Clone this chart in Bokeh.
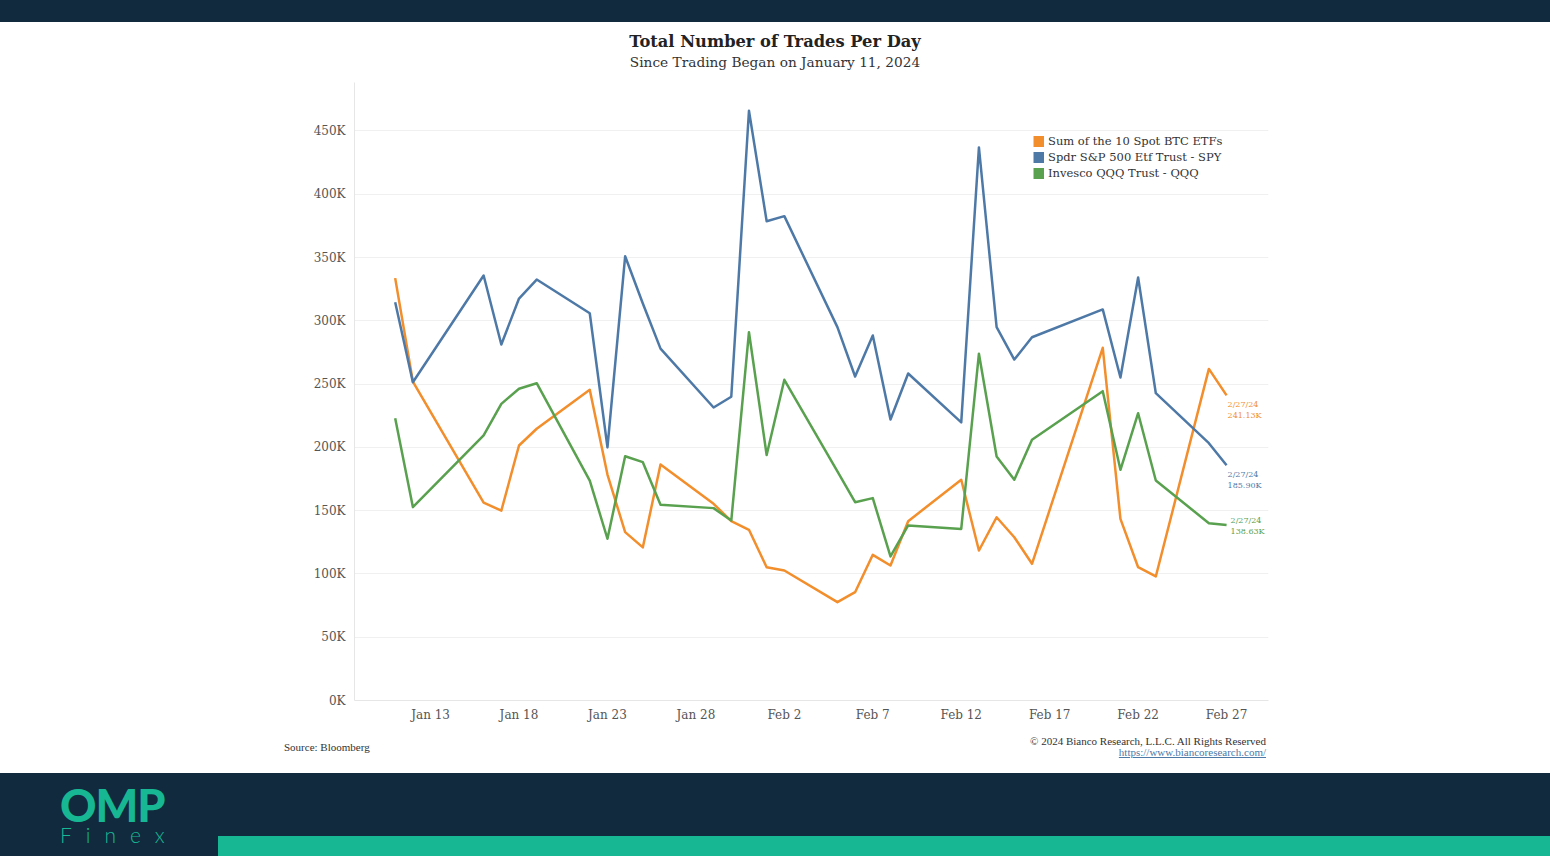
import pandas as pd
from bokeh.plotting import figure
from bokeh.models import FixedTicker, Range1d, Legend, LegendItem, Div
from bokeh.layouts import column
from bokeh.core.properties import value
from bokeh.embed import file_html
from bokeh.resources import INLINE

# ---------------- data (thousands of trades per day) ----------------
dates = ["2024-01-11", "2024-01-12", "2024-01-16", "2024-01-17", "2024-01-18", "2024-01-19",
         "2024-01-22", "2024-01-23", "2024-01-24", "2024-01-25", "2024-01-26", "2024-01-29",
         "2024-01-30", "2024-01-31", "2024-02-01", "2024-02-02", "2024-02-05", "2024-02-06",
         "2024-02-07", "2024-02-08", "2024-02-09", "2024-02-12", "2024-02-13", "2024-02-14",
         "2024-02-15", "2024-02-16", "2024-02-20", "2024-02-21", "2024-02-22", "2024-02-23",
         "2024-02-26", "2024-02-27"]
btc_etfs = [333.7, 252.0, 156.4, 150.0, 201.5, 214.7, 245.5, 178.5, 133.0, 121.0, 186.5, 155.4,
            141.7, 134.9, 105.3, 102.7, 77.7, 85.6, 115.1, 106.7, 141.7, 174.4, 118.5, 144.8,
            129.0, 108.0, 278.7, 143.5, 105.3, 98.0, 262.0, 241.13]
spy = [314.7, 251.5, 335.8, 281.3, 317.6, 332.6, 306.0, 200.0, 351.0, 313.7, 278.0, 231.5,
       240.0, 466.0, 378.7, 382.7, 295.0, 256.0, 288.4, 222.0, 258.4, 219.7, 437.0, 295.0,
       269.4, 287.0, 309.0, 255.2, 334.2, 242.8, 203.3, 185.90]
qqq = [223.0, 152.8, 209.4, 234.4, 246.3, 250.7, 173.8, 127.8, 193.0, 188.3, 154.6, 152.0,
       142.2, 291.0, 194.0, 253.4, 181.0, 156.7, 159.9, 113.8, 138.3, 135.6, 274.0, 192.8,
       174.4, 206.0, 244.4, 182.3, 227.0, 173.8, 140.1, 138.63]

series_names = ["Sum of the 10 Spot BTC ETFs", "Spdr S&P 500 Etf Trust - SPY", "Invesco QQQ Trust - QQQ"]
series_values = [btc_etfs, spy, qqq]

y_ticks = [0, 50, 100, 150, 200, 250, 300, 350, 400, 450]
y_tick_labels = ["0K", "50K", "100K", "150K", "200K", "250K", "300K", "350K", "400K", "450K"]
x_ticks = ["2024-01-13", "2024-01-18", "2024-01-23", "2024-01-28", "2024-02-02",
           "2024-02-07", "2024-02-12", "2024-02-17", "2024-02-22", "2024-02-27"]
x_tick_labels = ["Jan 13", "Jan 18", "Jan 23", "Jan 28", "Feb 2",
                 "Feb 7", "Feb 12", "Feb 17", "Feb 22", "Feb 27"]

# ---------------- styles ----------------
series_colors = ["#f28e2b", "#4e79a7", "#59a14f"]
end_label_offsets = [(1, 5), (1, 5), (4, -9)]
NAVY = "#112a3e"
TEAL = "#17b794"
SERIF = "DejaVu Serif"
W = 1550

EPOCH = pd.Timestamp("1970-01-01")


def to_ms(ts):
    return float((pd.Timestamp(ts) - EPOCH) / pd.Timedelta(milliseconds=1))


x = pd.to_datetime(dates)
x_start = to_ms(pd.Timestamp("2024-01-11") - pd.Timedelta(days=2.3))
x_end = to_ms(pd.Timestamp("2024-02-27") + pd.Timedelta(days=2.37))

p = figure(width=W, height=652, x_axis_type="datetime",
           x_range=Range1d(x_start, x_end), y_range=Range1d(0, 488.3),
           output_backend="svg", toolbar_location=None,
           min_border_left=354, min_border_right=282, min_border_top=4, min_border_bottom=30,
           background_fill_color="white", border_fill_color="white", outline_line_color=None)

legend_items = []
for name, vals, col in zip(series_names, series_values, series_colors):
    p.line(x, vals, line_color=col, line_width=2.5, line_join="round")
    proxy = p.line(x, vals, line_color=col, line_width=11, visible=False)
    legend_items.append(LegendItem(label=name, renderers=[proxy]))

last = x[-1]
last_label = f"{last.month}/{last.day}/{last.year % 100}"
for vals, col, (dx, dy) in zip(series_values, series_colors, end_label_offsets):
    p.text(x=[last], y=[vals[-1]], text=[f"{last_label}\n{vals[-1]:.2f}K"],
           x_offset=dx, y_offset=dy, text_align="left", text_baseline="top",
           text_font=value(SERIF), text_font_size="8px", text_color=col,
           text_line_height=1.2)

legend = Legend(items=legend_items, location=(679, 519), orientation="vertical",
                glyph_width=11, glyph_height=16, label_height=16, spacing=0,
                padding=0, margin=0, label_standoff=4,
                border_line_color=None, background_fill_alpha=0,
                label_text_font=SERIF, label_text_font_size="11.5px", label_text_color="#333333")
p.add_layout(legend)

p.yaxis.ticker = FixedTicker(ticks=y_ticks)
p.yaxis.major_label_overrides = {t: l for t, l in zip(y_ticks, y_tick_labels)}
x_tick_ms = [to_ms(t) for t in x_ticks]
p.xaxis.ticker = FixedTicker(ticks=x_tick_ms)
p.xaxis.major_label_overrides = {t: l for t, l in zip(x_tick_ms, x_tick_labels)}

p.axis.major_tick_line_color = None
p.axis.minor_tick_line_color = None
p.axis.axis_line_color = "#e6e6e6"
p.axis.major_label_text_font = SERIF
p.axis.major_label_text_font_size = "12px"
p.axis.major_label_text_color = "#555555"
p.yaxis.major_label_standoff = 3
p.xaxis.major_label_standoff = 1
p.xgrid.grid_line_color = None
p.ygrid.grid_line_color = "#f0f0f0"

top_band = Div(text=f'<div style="width:{W}px;height:22px;background:{NAVY};"></div>',
               width=W, height=22, margin=0)

title_div = Div(text=(
    f'<div style="position:relative;width:{W}px;height:56px;background:#fff;color:#222;font-family:\'{SERIF}\';">'
    '<div style="position:absolute;left:0;top:11px;width:100%;text-align:center;font-weight:bold;'
    'font-size:16.3px;line-height:18px;">Total Number of Trades Per Day</div>'
    '<div style="position:absolute;left:0;top:32px;width:100%;text-align:center;'
    'font-size:13.7px;line-height:16px;color:#333;">Since Trading Began on January 11, 2024</div>'
    '</div>'), width=W, height=56, margin=0)

footer_div = Div(text=(
    f'<div style="position:relative;width:{W}px;height:43px;background:#fff;font-family:\'Liberation Serif\';color:#333;">'
    '<div style="position:absolute;left:284px;top:11px;font-size:11px;line-height:12px;">Source: Bloomberg</div>'
    '<div style="position:absolute;right:284px;top:5px;font-size:11px;line-height:12px;text-align:right;">'
    '&copy; 2024 Bianco Research, L.L.C. All Rights Reserved</div>'
    '<div style="position:absolute;right:284px;top:16px;font-size:11px;line-height:12px;text-align:right;'
    'color:#4e79a7;text-decoration:underline;">https://www.biancoresearch.com/</div>'
    '</div>'), width=W, height=43, margin=0)

bottom_band = Div(text=(
    f'<div style="position:relative;width:{W}px;height:83px;background:{NAVY};overflow:hidden;">'
    f'<div style="position:absolute;left:60px;top:15px;font-family:Lato;font-weight:900;font-size:45px;'
    f'line-height:34px;color:{TEAL};letter-spacing:-1px;">OMP</div>'
    f'<div style="position:absolute;left:60px;top:51px;font-family:Lato;font-weight:300;font-size:21px;'
    f'line-height:22px;color:{TEAL};letter-spacing:14px;">Finex</div>'
    f'<div style="position:absolute;left:218px;top:63px;width:{W - 218}px;height:20px;background:{TEAL};"></div>'
    '</div>'), width=W, height=83, margin=0)

layout = column(top_band, title_div, p, footer_div, bottom_band, spacing=0)

with open("out.html", "w") as f:
    f.write(file_html(layout, INLINE))
